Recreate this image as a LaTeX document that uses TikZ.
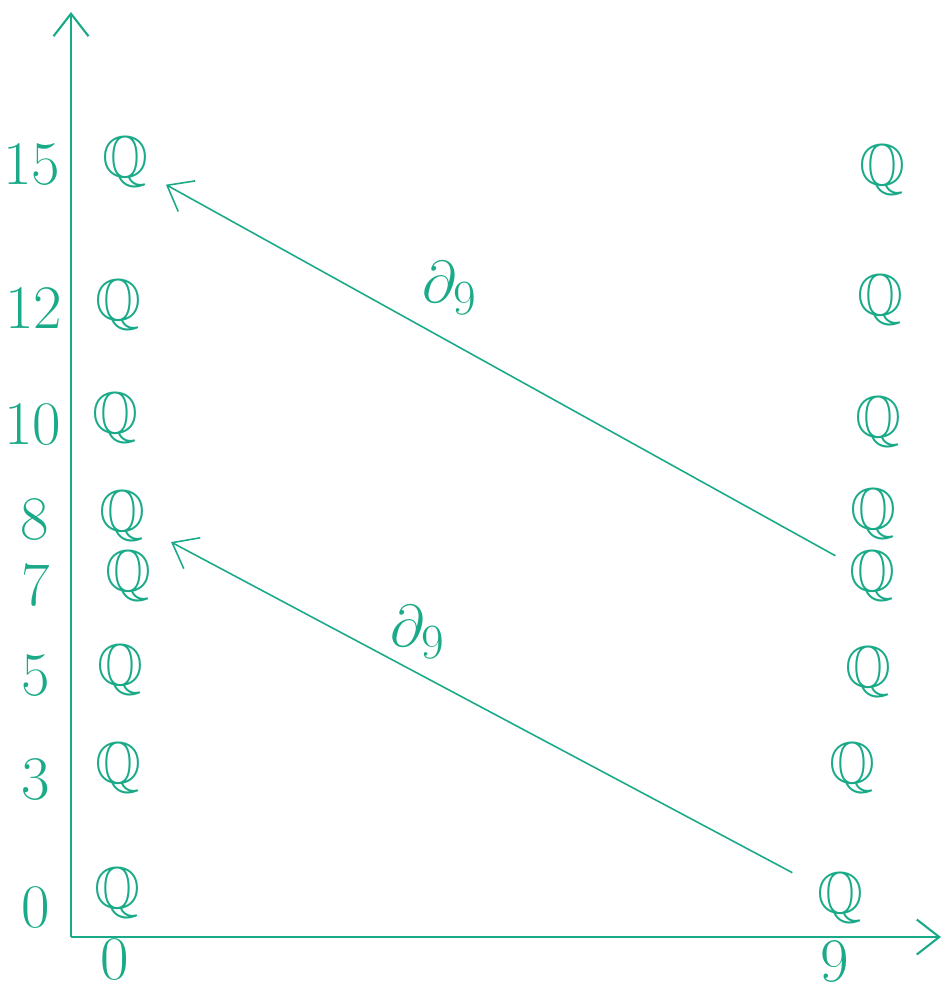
\documentclass[tikz,border=0pt]{standalone}
\usepackage{amsmath,amssymb}
\usepackage{tikz}
\usetikzlibrary{arrows.meta}
\definecolor{Teal}{HTML}{1BAA88}

\begin{document}
\begin{tikzpicture}[x=0.02cm, y=-0.02cm, >={Straight Barb[length=0.45cm,width=0.7cm]},
  every node/.style={text=Teal, font=\Huge, scale=1.35, inner sep=0pt},
  degree/.style={scale=1.05},
  axis/.style={->, draw=Teal, line width=1.2pt},
  diff/.style={->, draw=Teal, line width=0.9pt}]
  \useasboundingbox (0,0) rectangle (943,997);
  % axes
  \coordinate (origin) at (71,937);
  \coordinate (ytip) at (71,12);
  \coordinate (xtip) at (941,937);
  \draw[axis] (origin) -- (ytip);
  \draw[axis] (origin) -- (xtip);
  % degree labels
  \node[degree] (d15) at (32,165) {15};
  \node[degree] (d12) at (34,308) {12};
  \node[degree] (d10) at (33,425) {10};
  \node[degree] (d8) at (35,520) {8};
  \node[degree] (d7) at (36,585) {7};
  \node[degree] (d5) at (36,676) {5};
  \node[degree] (d3) at (36,780) {3};
  \node[degree] (d0) at (36,908) {0};
  \node[degree] (c0) at (115,960) {0};
  \node[degree] (c9) at (835,962) {9};
  % column 0
  \node (q015) at (125,162) {$\mathbb{Q}$};
  \node (q012) at (118,305) {$\mathbb{Q}$};
  \node (q010) at (115,418) {$\mathbb{Q}$};
  \node (q08) at (122,516) {$\mathbb{Q}$};
  \node (q07) at (128,576) {$\mathbb{Q}$};
  \node (q05) at (120,670) {$\mathbb{Q}$};
  \node (q03) at (118,768) {$\mathbb{Q}$};
  \node (q00) at (117,893) {$\mathbb{Q}$};
  % column 9
  \node (q915) at (882,170) {$\mathbb{Q}$};
  \node (q912) at (880,300) {$\mathbb{Q}$};
  \node (q910) at (878,422) {$\mathbb{Q}$};
  \node (q98) at (873,514) {$\mathbb{Q}$};
  \node (q97) at (872,576) {$\mathbb{Q}$};
  \node (q95) at (868,672) {$\mathbb{Q}$};
  \node (q93) at (852,768) {$\mathbb{Q}$};
  \node (q90) at (840,898) {$\mathbb{Q}$};
  % differentials
  \draw[diff, shorten <=0.3cm, shorten >=0.4cm] (q97) -- (q015);
  \draw[diff, shorten <=0.55cm, shorten >=0.58cm] (q90) -- (q08);
  \node (lab1) at (450,288) {$\partial_9$};
  \node (lab2) at (418,632) {$\partial_9$};
\end{tikzpicture}
\end{document}
